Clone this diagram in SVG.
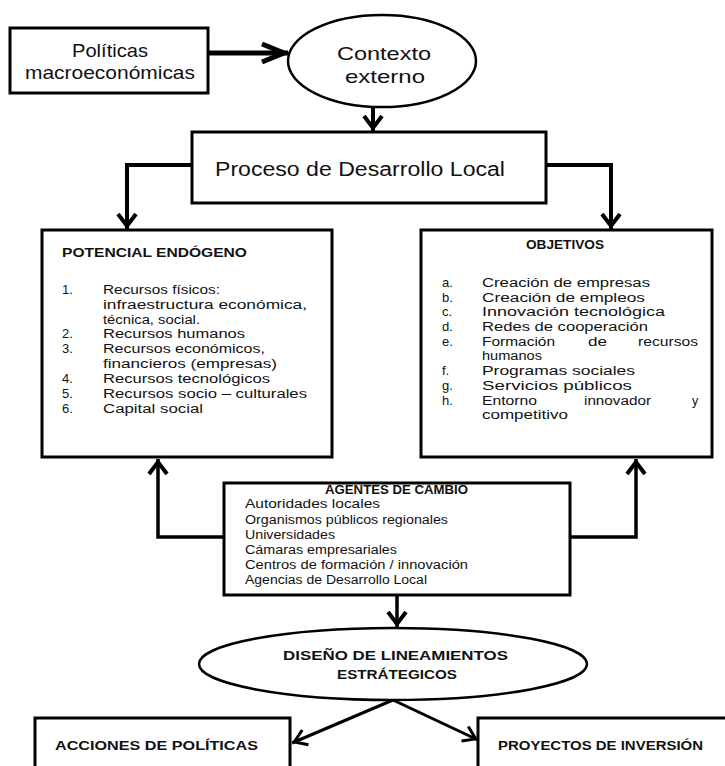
<svg xmlns="http://www.w3.org/2000/svg" width="725" height="766" viewBox="0 0 725 766">
<style>
.box{fill:#fff;stroke:#000;stroke-width:3}
.ell{fill:#fff;stroke:#000;stroke-width:2.5}
.t{font-family:"Liberation Sans",Arial,sans-serif;fill:#111}
.r{font-size:12.5px}
.n{font-size:13px}
.s{font-size:12px}
.b{font-size:13.5px;font-weight:bold}
.l{font-size:18.5px}
.c{fill:none;stroke:#000;stroke-linejoin:miter}
</style>
<defs>
<marker id="ah" viewBox="-20 -12 26 24" markerWidth="26" markerHeight="24" refX="3" refY="0" markerUnits="userSpaceOnUse" orient="auto">
<path d="M-12,-9 L0,0 L-12,9" fill="none" stroke="#000" stroke-width="4"/>
</marker>
<marker id="ahs" viewBox="-20 -12 26 24" markerWidth="26" markerHeight="24" refX="2.5" refY="0" markerUnits="userSpaceOnUse" orient="auto">
<path d="M-12,-8 L0,0 L-12,8" fill="none" stroke="#000" stroke-width="3"/>
</marker>
<marker id="ahb" viewBox="-30 -14 36 28" markerWidth="36" markerHeight="28" refX="4" refY="0" markerUnits="userSpaceOnUse" orient="auto">
<path d="M-22,-9 L0,0 L-22,9" fill="none" stroke="#000" stroke-width="5"/>
</marker>
</defs>
<rect width="725" height="766" fill="#fff"/>
<g id="connectors">
<line class="c" x1="208" y1="53" x2="288" y2="53" stroke-width="5" marker-end="url(#ahb)"/>
<line class="c" x1="373" y1="107" x2="373" y2="131" stroke-width="4" marker-end="url(#ah)"/>
<path class="c" d="M192,165 H127 V229" stroke-width="4" marker-end="url(#ah)"/>
<path class="c" d="M546,165 H611 V229" stroke-width="4" marker-end="url(#ah)"/>
<path class="c" d="M224,537 H158 V459" stroke-width="3.5" marker-end="url(#ah)"/>
<path class="c" d="M570,537 H636 V459" stroke-width="3.5" marker-end="url(#ah)"/>
<line class="c" x1="397" y1="595" x2="397" y2="627" stroke-width="3.5" marker-end="url(#ah)"/>
<line class="c" x1="393" y1="700" x2="292" y2="743" stroke-width="3" marker-end="url(#ahs)"/>
<line class="c" x1="393" y1="700" x2="478" y2="740" stroke-width="3" marker-end="url(#ahs)"/>
</g>
<g id="politicas">
<rect class="box" x="10" y="28" width="198" height="65"/>
<text class="t l" x="72" y="57" textLength="76" lengthAdjust="spacingAndGlyphs">Políticas</text>
<text class="t l" x="25" y="79" textLength="170" lengthAdjust="spacingAndGlyphs">macroeconómicas</text>
</g>
<g id="contexto">
<ellipse class="ell" cx="382" cy="61" rx="94" ry="46"/>
<text class="t l" x="337" y="60" textLength="94" lengthAdjust="spacingAndGlyphs">Contexto</text>
<text class="t l" x="345" y="83" textLength="80" lengthAdjust="spacingAndGlyphs">externo</text>
</g>
<g id="proceso">
<rect class="box" x="192" y="132" width="354" height="71"/>
<text class="t" font-size="20" x="215" y="176" textLength="290" lengthAdjust="spacingAndGlyphs">Proceso de Desarrollo Local</text>
</g>
<g id="potencial">
<rect class="box" x="42" y="230" width="290" height="227"/>
<text class="t b" x="62" y="257" textLength="185" lengthAdjust="spacingAndGlyphs">POTENCIAL ENDÓGENO</text>
<g class="t r">
<text class="n" x="62" y="294">1.</text><text x="103" y="294" textLength="117" lengthAdjust="spacingAndGlyphs">Recursos físicos:</text>
<text x="103" y="309" textLength="204" lengthAdjust="spacingAndGlyphs">infraestructura económica,</text>
<text x="103" y="324" textLength="97" lengthAdjust="spacingAndGlyphs">técnica, social.</text>
<text class="n" x="62" y="338">2.</text><text x="103" y="338" textLength="142" lengthAdjust="spacingAndGlyphs">Recursos humanos</text>
<text class="n" x="62" y="353">3.</text><text x="103" y="353" textLength="162" lengthAdjust="spacingAndGlyphs">Recursos económicos,</text>
<text x="103" y="368" textLength="174" lengthAdjust="spacingAndGlyphs">financieros (empresas)</text>
<text class="n" x="62" y="383">4.</text><text x="103" y="383" textLength="167" lengthAdjust="spacingAndGlyphs">Recursos tecnológicos</text>
<text class="n" x="62" y="398">5.</text><text x="103" y="398" textLength="204" lengthAdjust="spacingAndGlyphs">Recursos socio – culturales</text>
<text class="n" x="62" y="413">6.</text><text x="103" y="413" textLength="100" lengthAdjust="spacingAndGlyphs">Capital social</text>
</g>
</g>
<g id="objetivos">
<rect class="box" x="421" y="230" width="291" height="227"/>
<text class="t b" x="526" y="249" textLength="78" lengthAdjust="spacingAndGlyphs">OBJETIVOS</text>
<g class="t r">
<text class="n" x="442" y="287">a.</text><text x="482" y="287" textLength="168" lengthAdjust="spacingAndGlyphs">Creación de empresas</text>
<text class="n" x="442" y="302">b.</text><text x="482" y="302" textLength="163" lengthAdjust="spacingAndGlyphs">Creación de empleos</text>
<text class="n" x="442" y="316">c.</text><text x="482" y="316" textLength="183" lengthAdjust="spacingAndGlyphs">Innovación tecnológica</text>
<text class="n" x="442" y="331">d.</text><text x="482" y="331" textLength="166" lengthAdjust="spacingAndGlyphs">Redes de cooperación</text>
<text class="n" x="442" y="346">e.</text><text x="482" y="346" textLength="73" lengthAdjust="spacingAndGlyphs">Formación</text><text x="588" y="346" textLength="19" lengthAdjust="spacingAndGlyphs">de</text><text x="638" y="346" textLength="60" lengthAdjust="spacingAndGlyphs">recursos</text>
<text x="482" y="360" textLength="60" lengthAdjust="spacingAndGlyphs">humanos</text>
<text class="n" x="442" y="375">f.</text><text x="482" y="375" textLength="153" lengthAdjust="spacingAndGlyphs">Programas sociales</text>
<text class="n" x="442" y="390">g.</text><text x="482" y="390" textLength="150" lengthAdjust="spacingAndGlyphs">Servicios públicos</text>
<text class="n" x="442" y="405">h.</text><text x="482" y="405" textLength="55" lengthAdjust="spacingAndGlyphs">Entorno</text><text x="584" y="405" textLength="67" lengthAdjust="spacingAndGlyphs">innovador</text><text x="692" y="405">y</text>
<text x="482" y="419" textLength="86" lengthAdjust="spacingAndGlyphs">competitivo</text>
</g>
</g>
<g id="agentes">
<rect class="box" x="224" y="483" width="346" height="112"/>
<text class="t" font-size="12" font-weight="bold" x="325" y="494" textLength="143" lengthAdjust="spacingAndGlyphs">AGENTES DE CAMBIO</text>
<g class="t s">
<text x="245" y="508" textLength="135" lengthAdjust="spacingAndGlyphs">Autoridades locales</text>
<text x="245" y="524" textLength="203" lengthAdjust="spacingAndGlyphs">Organismos públicos regionales</text>
<text x="245" y="539" textLength="90" lengthAdjust="spacingAndGlyphs">Universidades</text>
<text x="245" y="554" textLength="152" lengthAdjust="spacingAndGlyphs">Cámaras empresariales</text>
<text x="245" y="569" textLength="223" lengthAdjust="spacingAndGlyphs">Centros de formación / innovación</text>
<text x="245" y="584" textLength="182" lengthAdjust="spacingAndGlyphs">Agencias de Desarrollo Local</text>
</g>
</g>
<g id="diseno">
<ellipse class="ell" cx="393" cy="664" rx="194" ry="36"/>
<text class="t b" x="283" y="660" textLength="225" lengthAdjust="spacingAndGlyphs">DISEÑO DE LINEAMIENTOS</text>
<text class="t b" x="337" y="679" textLength="120" lengthAdjust="spacingAndGlyphs">ESTRÁTEGICOS</text>
</g>
<g id="acciones">
<rect class="box" x="35" y="718" width="255" height="70"/>
<text class="t b" x="55" y="750" textLength="203" lengthAdjust="spacingAndGlyphs">ACCIONES DE POLÍTICAS</text>
</g>
<g id="proyectos">
<rect class="box" x="478" y="718" width="270" height="70"/>
<text class="t b" x="498" y="750" textLength="205" lengthAdjust="spacingAndGlyphs">PROYECTOS DE INVERSIÓN</text>
</g>
</svg>
